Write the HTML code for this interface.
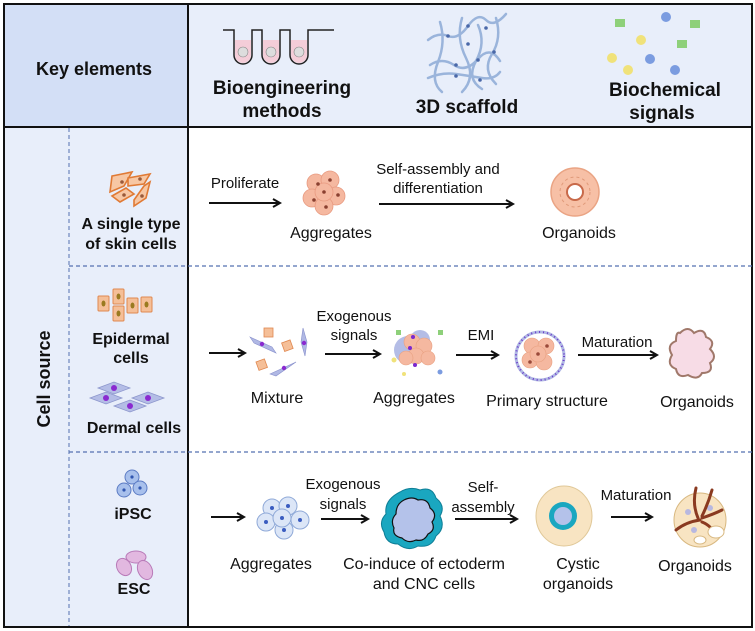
<!DOCTYPE html>
<html><head><meta charset="utf-8"><style>
html,body{margin:0;padding:0;background:#fff}
svg{display:block}
text{font-family:"Liberation Sans",sans-serif;fill:#111}
.b{font-weight:bold}
</style></head><body>
<svg width="755" height="631" viewBox="0 0 755 631" xmlns="http://www.w3.org/2000/svg">
<defs>
<marker id="ar" markerWidth="10" markerHeight="10" refX="8" refY="5" orient="auto" markerUnits="userSpaceOnUse">
<path d="M1,1 L8,5 L1,9" fill="none" stroke="#111" stroke-width="2"/>
</marker>
</defs>
<rect x="4" y="4" width="184" height="123" fill="#d3dff6"/>
<rect x="188" y="4" width="564" height="123" fill="#e8eefa"/>
<rect x="4" y="127" width="184" height="500" fill="#e8eefa"/>
<rect x="4" y="4" width="748" height="623" fill="none" stroke="#111" stroke-width="2"/>
<line x1="188" y1="4" x2="188" y2="627" stroke="#111" stroke-width="2"/>
<line x1="4" y1="127" x2="752" y2="127" stroke="#111" stroke-width="2"/>
<line x1="69" y1="128" x2="69" y2="626" stroke="#5570b0" stroke-width="1" stroke-dasharray="4,3"/>
<line x1="69" y1="266" x2="752" y2="266" stroke="#5570b0" stroke-width="1.2" stroke-dasharray="4,3"/>
<line x1="69" y1="452" x2="752" y2="452" stroke="#5570b0" stroke-width="1.2" stroke-dasharray="4,3"/>

<text x="94" y="75" class="b" font-size="18" text-anchor="middle">Key elements</text>
<g stroke="#222" stroke-width="1.5" fill="#f4cdd8">
<path d="M235,40 V55 a8,8 0 0 0 16,0 V40Z" stroke="none"/>
<path d="M263,40 V55 a8,8 0 0 0 16,0 V40Z" stroke="none"/>
<path d="M291,40 V55 a8,8 0 0 0 16,0 V40Z" stroke="none"/>
<path d="M223,30 H234 V55 a9,9 0 0 0 18,0 V30 H262 V55 a9,9 0 0 0 18,0 V30 H290 V55 a9,9 0 0 0 18,0 V30 H334" fill="none"/>
</g>
<g fill="#ddd" stroke="#888" stroke-width="0.6"><circle cx="243" cy="52" r="5"/><circle cx="271" cy="52" r="5"/><circle cx="299" cy="52" r="5"/></g>
<text x="282" y="94" class="b" font-size="19" text-anchor="middle">Bioengineering</text>
<text x="282" y="117" class="b" font-size="19" text-anchor="middle">methods</text>
<g fill="none" stroke="#9ab4db" stroke-width="2.5" stroke-linecap="round">
<path d="M428,40 q10,-8 20,-4 t20,-10 t18,-6 t20,-6"/>
<path d="M430,65 q12,-8 24,0 t24,-6 t22,2"/>
<path d="M428,78 q14,-6 28,-4 t26,4 t18,-6"/>
<path d="M440,22 q6,20 -2,40 t4,30"/>
<path d="M462,18 q-6,20 4,40 t-4,34"/>
<path d="M478,25 q8,18 -2,36 t6,28"/>
<path d="M496,18 q6,20 -4,36 t4,30"/>
</g>
<g fill="#4a68a8"><circle cx="448" cy="36" r="1.8"/><circle cx="468" cy="26" r="1.8"/><circle cx="486" cy="28" r="1.8"/><circle cx="456" cy="65" r="1.8"/><circle cx="478" cy="60" r="1.8"/><circle cx="494" cy="52" r="1.8"/><circle cx="456" cy="76" r="1.8"/><circle cx="480" cy="80" r="1.8"/><circle cx="468" cy="44" r="1.8"/></g>
<text x="467" y="113" class="b" font-size="19" text-anchor="middle">3D scaffold</text>
<g><rect x="615" y="19" width="10" height="8" fill="#8ed07a"/><rect x="690" y="20" width="10" height="8" fill="#8ed07a"/><rect x="677" y="40" width="10" height="8" fill="#8ed07a"/>
<circle cx="666" cy="17" r="5" fill="#7b9ce0"/><circle cx="641" cy="40" r="5" fill="#f0e27a"/><circle cx="612" cy="58" r="5" fill="#f0e27a"/><circle cx="650" cy="59" r="5" fill="#7b9ce0"/><circle cx="628" cy="70" r="5" fill="#f0e27a"/><circle cx="675" cy="70" r="5" fill="#7b9ce0"/></g>
<text x="665" y="96" class="b" font-size="19" text-anchor="middle">Biochemical</text>
<text x="662" y="119" class="b" font-size="19" text-anchor="middle">signals</text>

<g fill="#f7c7a4" stroke="#e07a35" stroke-width="1.6">
<path d="M112,176 l20,-4 l-8,14 l-14,6z"/><path d="M128,178 l22,-4 l-6,10 l-16,2z"/>
<path d="M112,196 l14,-8 l8,6 l-14,8z"/><path d="M134,200 l10,-14 l6,-4 l-4,16 l-12,8z"/>
</g>
<g fill="#9a5a3a"><circle cx="122" cy="182" r="1.8"/><circle cx="140" cy="179" r="1.8"/><circle cx="124" cy="195" r="1.8"/><circle cx="142" cy="196" r="1.8"/></g>
<text x="131" y="229" class="b" font-size="16" text-anchor="middle">A single type</text>
<text x="131" y="249" class="b" font-size="16" text-anchor="middle">of skin cells</text>

<g fill="#f5bf98" stroke="#e08850" stroke-width="1">
<rect x="98" y="296" width="11" height="15" rx="1"/><rect x="113" y="289" width="11" height="15" rx="1"/><rect x="127" y="298" width="11" height="15" rx="1"/><rect x="141" y="297" width="11" height="15" rx="1"/><rect x="113" y="306" width="11" height="15" rx="1"/>
</g>
<g fill="#9a7a20"><ellipse cx="103.5" cy="303.5" rx="2" ry="3"/><ellipse cx="118.5" cy="296.5" rx="2" ry="3"/><ellipse cx="132.5" cy="305.5" rx="2" ry="3"/><ellipse cx="146.5" cy="304.5" rx="2" ry="3"/><ellipse cx="118.5" cy="313.5" rx="2" ry="3"/></g>
<text x="131" y="344" class="b" font-size="16" text-anchor="middle">Epidermal</text>
<text x="131" y="363" class="b" font-size="16" text-anchor="middle">cells</text>
<g fill="#b4bde6" stroke="#8c96cc" stroke-width="0.8">
<path d="M98,388 l16,-6 l16,6 l-16,6z"/><path d="M90,398 l16,-6 l16,6 l-16,6z"/><path d="M132,398 l16,-6 l16,6 l-16,6z"/><path d="M114,406 l16,-6 l16,6 l-16,6z"/>
</g>
<g fill="#8a2ad0"><circle cx="114" cy="388" r="3"/><circle cx="106" cy="398" r="3"/><circle cx="148" cy="398" r="3"/><circle cx="130" cy="406" r="3"/></g>
<text x="134" y="433" class="b" font-size="16" text-anchor="middle">Dermal cells</text>
<text x="0" y="0" class="b" font-size="18" text-anchor="middle" transform="translate(50,379) rotate(-90)">Cell source</text>

<g fill="#a8c0ec" stroke="#5c7cc4" stroke-width="1"><circle cx="132" cy="477" r="7"/><circle cx="124" cy="490" r="7"/><circle cx="140" cy="488" r="7"/></g>
<g fill="#3056b0"><circle cx="132" cy="477" r="1.6"/><circle cx="124" cy="490" r="1.6"/><circle cx="140" cy="488" r="1.6"/></g>
<text x="133" y="519" class="b" font-size="16" text-anchor="middle">iPSC</text>
<g fill="#e2b8e0" stroke="#b87ab8" stroke-width="1"><ellipse cx="136" cy="557" rx="10" ry="6"/><ellipse cx="124" cy="567" rx="7" ry="9" transform="rotate(-30 124 567)"/><ellipse cx="145" cy="570" rx="7" ry="10" transform="rotate(-25 145 570)"/></g>
<text x="134" y="594" class="b" font-size="16" text-anchor="middle">ESC</text>

<!-- row 1 -->
<text x="245" y="188" font-size="15" text-anchor="middle">Proliferate</text>
<line x1="209" y1="203" x2="280" y2="203" stroke="#111" stroke-width="2" marker-end="url(#ar)"/>
<g fill="#f5b8a0" stroke="#e89a80" stroke-width="0.8">
<circle cx="316" cy="183" r="9"/><circle cx="330" cy="180" r="9"/><circle cx="312" cy="198" r="9"/><circle cx="336" cy="196" r="9"/><circle cx="324" cy="206" r="9"/><circle cx="324" cy="192" r="9"/>
</g>
<g fill="#8a4030"><circle cx="318" cy="184" r="1.8"/><circle cx="330" cy="180" r="1.8"/><circle cx="314" cy="200" r="1.8"/><circle cx="338" cy="195" r="1.8"/><circle cx="326" cy="207" r="1.8"/><circle cx="324" cy="192" r="1.8"/></g>
<text x="331" y="238" font-size="16" text-anchor="middle">Aggregates</text>
<text x="438" y="174" font-size="15" text-anchor="middle">Self-assembly and</text>
<text x="438" y="193" font-size="15" text-anchor="middle">differentiation</text>
<line x1="379" y1="204" x2="513" y2="204" stroke="#111" stroke-width="2" marker-end="url(#ar)"/>
<circle cx="575" cy="192" r="24" fill="#f7c0a6" stroke="#eaa484" stroke-width="1.5"/>
<circle cx="575" cy="192" r="15" fill="none" stroke="#e09a7a" stroke-width="1" stroke-dasharray="3,3"/>
<circle cx="575" cy="192" r="8" fill="#fff" stroke="#c86a4a" stroke-width="2"/>
<text x="579" y="238" font-size="16" text-anchor="middle">Organoids</text>

<!-- row 2 -->
<line x1="209" y1="353" x2="245" y2="353" stroke="#111" stroke-width="2" marker-end="url(#ar)"/>
<g fill="#b0b8e4" stroke="#8890cc" stroke-width="0.6">
<path d="M250,337 l22,10 l4,6 l-22,-10z"/><path d="M303,328 l4,14 l-2,14 l-4,-14z"/><path d="M270,374 l26,-12 l-20,14z"/>
</g>
<g fill="#f5bf98" stroke="#e08850" stroke-width="0.8"><rect x="264" y="328" width="9" height="9"/><rect x="283" y="341" width="9" height="9" transform="rotate(-20 288 346)"/><rect x="257" y="360" width="9" height="9" transform="rotate(-20 262 364)"/></g>
<g fill="#8a2ad0"><circle cx="262" cy="344" r="2.2"/><circle cx="304" cy="343" r="2.2"/><circle cx="284" cy="368" r="2.2"/></g>
<text x="277" y="403" font-size="16" text-anchor="middle">Mixture</text>
<text x="354" y="321" font-size="15" text-anchor="middle">Exogenous</text>
<text x="354" y="340" font-size="15" text-anchor="middle">signals</text>
<line x1="325" y1="354" x2="380" y2="354" stroke="#111" stroke-width="2" marker-end="url(#ar)"/>
<g><circle cx="408" cy="350" r="14" fill="#b4bde6"/><circle cx="420" cy="340" r="10" fill="#b4bde6"/>
<g fill="#f5b8a0" stroke="#e8a080" stroke-width="0.6"><circle cx="412" cy="342" r="8"/><circle cx="424" cy="346" r="8"/><circle cx="416" cy="356" r="8"/><circle cx="428" cy="358" r="7"/><circle cx="406" cy="358" r="7"/></g>
<g fill="#7a28d0"><circle cx="413" cy="337" r="2"/><circle cx="410" cy="348" r="2"/><circle cx="415" cy="365" r="2"/></g>
<rect x="396" y="330" width="5" height="5" fill="#8ed07a"/><rect x="438" y="330" width="5" height="5" fill="#8ed07a"/>
<circle cx="440" cy="372" r="2.5" fill="#7b9ce0"/><circle cx="394" cy="360" r="2.5" fill="#f0e27a"/><circle cx="404" cy="374" r="2" fill="#f0e27a"/></g>
<text x="414" y="403" font-size="16" text-anchor="middle">Aggregates</text>
<text x="481" y="340" font-size="15" text-anchor="middle">EMI</text>
<line x1="456" y1="355" x2="498" y2="355" stroke="#111" stroke-width="2" marker-end="url(#ar)"/>
<ellipse cx="540" cy="356" rx="24" ry="24" fill="#fff" stroke="#b0b8e4" stroke-width="3"/>
<ellipse cx="540" cy="356" rx="24" ry="24" fill="none" stroke="#6a3cc8" stroke-width="2" stroke-dasharray="1,3"/>
<g fill="#f5b8a0" stroke="#e8a080" stroke-width="0.6"><circle cx="532" cy="346" r="8"/><circle cx="546" cy="346" r="8"/><circle cx="530" cy="360" r="8"/><circle cx="544" cy="362" r="8"/><circle cx="538" cy="354" r="8"/></g>
<g fill="#9a4a3a"><circle cx="538" cy="354" r="1.8"/><circle cx="530" cy="362" r="1.8"/><circle cx="547" cy="346" r="1.8"/></g>
<text x="547" y="406" font-size="16" text-anchor="middle">Primary structure</text>
<text x="617" y="347" font-size="15" text-anchor="middle">Maturation</text>
<line x1="578" y1="355" x2="657" y2="355" stroke="#111" stroke-width="2" marker-end="url(#ar)"/>
<path d="M680,333 q8,-8 14,0 q10,-6 12,4 q10,4 4,12 q8,8 0,14 q4,10 -8,10 q-4,8 -14,2 q-10,4 -12,-6 q-10,-4 -4,-14 q-6,-10 4,-14 q0,-10 4,-8z" fill="#f7dce6" stroke="#a0786a" stroke-width="2"/>
<text x="697" y="407" font-size="16" text-anchor="middle">Organoids</text>

<!-- row 3 -->
<line x1="211" y1="517" x2="244" y2="517" stroke="#111" stroke-width="2" marker-end="url(#ar)"/>
<g fill="#dce6f7" stroke="#90aad8" stroke-width="1">
<circle cx="272" cy="508" r="9"/><circle cx="288" cy="506" r="9"/><circle cx="266" cy="522" r="9"/><circle cx="300" cy="520" r="9"/><circle cx="284" cy="530" r="9"/><circle cx="282" cy="518" r="9"/>
</g>
<g fill="#3a5cc0"><circle cx="272" cy="508" r="2"/><circle cx="288" cy="506" r="2"/><circle cx="266" cy="522" r="2"/><circle cx="300" cy="520" r="2"/><circle cx="284" cy="530" r="2"/><circle cx="282" cy="518" r="2"/></g>
<text x="271" y="569" font-size="16" text-anchor="middle">Aggregates</text>
<text x="343" y="489" font-size="15" text-anchor="middle">Exogenous</text>
<text x="343" y="509" font-size="15" text-anchor="middle">signals</text>
<line x1="321" y1="519" x2="368" y2="519" stroke="#111" stroke-width="2" marker-end="url(#ar)"/>
<path d="M400,492 q10,-6 20,-2 q12,-4 16,8 q10,8 4,18 q6,12 -4,20 q-4,12 -18,10 q-10,6 -20,-2 q-12,0 -14,-12 q-6,-10 2,-18 q-2,-14 14,-22z" fill="#1aa7c0" stroke="#0e7e96" stroke-width="1"/>
<path d="M404,500 q8,-4 14,0 q10,-2 12,8 q8,6 2,14 q4,8 -4,12 q-4,8 -12,6 q-8,4 -14,-2 q-10,-2 -8,-10 q-4,-8 2,-14 q0,-10 8,-14z" fill="#b4c2ea" stroke="#111" stroke-width="1.2"/>
<text x="424" y="569" font-size="16" text-anchor="middle">Co-induce of ectoderm</text>
<text x="424" y="589" font-size="16" text-anchor="middle">and CNC cells</text>
<text x="483" y="492" font-size="15" text-anchor="middle">Self-</text>
<text x="483" y="512" font-size="15" text-anchor="middle">assembly</text>
<line x1="455" y1="519" x2="517" y2="519" stroke="#111" stroke-width="2" marker-end="url(#ar)"/>
<ellipse cx="564" cy="516" rx="28" ry="30" fill="#f8e4c2" stroke="#e0c898" stroke-width="1"/>
<circle cx="563" cy="516" r="14" fill="#1aa7c0"/>
<circle cx="563" cy="516" r="9" fill="#b4c2ea"/>
<text x="578" y="569" font-size="16" text-anchor="middle">Cystic</text>
<text x="578" y="589" font-size="16" text-anchor="middle">organoids</text>
<text x="636" y="500" font-size="15" text-anchor="middle">Maturation</text>
<line x1="611" y1="517" x2="652" y2="517" stroke="#111" stroke-width="2" marker-end="url(#ar)"/>
<ellipse cx="700" cy="520" rx="26" ry="27" fill="#f8e4c2" stroke="#d8b880" stroke-width="1"/>
<g fill="#b8b8e0"><circle cx="688" cy="512" r="3"/><circle cx="710" cy="508" r="3"/><circle cx="694" cy="530" r="3"/></g>
<g fill="none" stroke="#8a3a20" stroke-width="3" stroke-linecap="round"><path d="M698,518 q-6,-14 -2,-30"/><path d="M702,516 q6,-12 10,-26"/><path d="M700,520 q-14,2 -24,10"/><path d="M702,522 q10,4 14,14"/><path d="M702,518 q12,-4 20,-8"/></g>
<ellipse cx="716" cy="532" rx="8" ry="6" fill="#fff" stroke="#d8b880"/>
<ellipse cx="700" cy="540" rx="6" ry="4" fill="#fff" stroke="#d8b880"/>
<text x="695" y="571" font-size="16" text-anchor="middle">Organoids</text>
</svg>
</body></html>
